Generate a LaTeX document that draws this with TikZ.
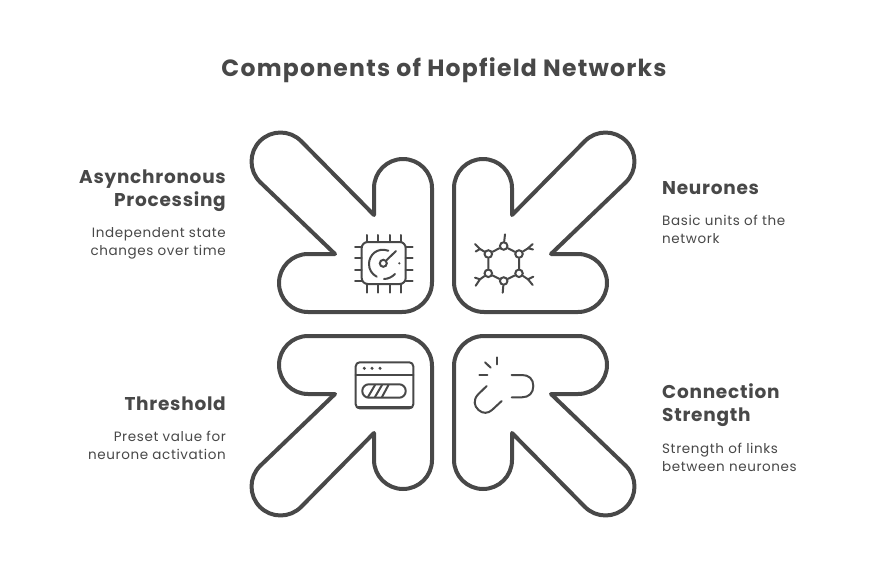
\documentclass[tikz,border=0pt]{standalone}
\usepackage{fontspec}
\setmainfont{Poppins}
\newfontfamily\titlefam{Poppins}[LetterSpace=5.3]
\newfontfamily\headfam{Poppins}[LetterSpace=4]
\newfontfamily\bodyfam{Poppins}[LetterSpace=4.6]
\definecolor{ink}{HTML}{484848}
\tikzset{
  arrowline/.style={draw=ink,line width=4pt,line join=round,fill=white},
  iconline/.style={draw=ink,line width=2pt,line cap=round,line join=round},
  hubring/.style={draw=ink,line width=2pt,circle,inner sep=0pt,minimum size=7.5pt},
  titletext/.style={text=ink,font=\titlefam\fontsize{23.5}{28}\selectfont\bfseries,inner sep=0pt,anchor=base},
  headleft/.style={text=ink,font=\headfam\fontsize{18.5}{23}\selectfont\bfseries,inner sep=0pt,align=right,anchor=base east},
  headright/.style={text=ink,font=\headfam\fontsize{18.5}{23}\selectfont\bfseries,inner sep=0pt,align=left,anchor=base west},
  bodyleft/.style={text=ink,font=\bodyfam\fontsize{13.5}{17.5}\selectfont,inner sep=0pt,align=right,anchor=base east},
  bodyright/.style={text=ink,font=\bodyfam\fontsize{13.5}{17.5}\selectfont,inner sep=0pt,align=left,anchor=base west},
}
\def\arrowoutline{(374,215) -- (374,188)
  .. controls (374,172) and (387,159) .. (403,159)
  .. controls (419,159) and (432,172) .. (432,188)
  -- (432,282)
  .. controls (432,298.5) and (418.5,312) .. (402,312)
  -- (308,312)
  .. controls (292,312) and (279,299) .. (279,283)
  .. controls (279,267) and (292,254) .. (308,254)
  -- (335,254) -- (260,182)
  .. controls (248.7,170.7) and (248.7,152.3) .. (260,141)
  .. controls (271.3,129.7) and (289.7,129.7) .. (301,141)
  -- cycle}
\begin{document}
\begin{tikzpicture}[x=1pt,y=-1pt]
\useasboundingbox (0,0) rectangle (888,588);
\fill[white] (0,0) rectangle (888,588);
% arrows
\draw[arrowline] \arrowoutline;
\draw[arrowline,cm={-1,0,0,1,(886,0)}] \arrowoutline;
\draw[arrowline,cm={1,0,0,-1,(0,648)}] \arrowoutline;
\draw[arrowline,cm={-1,0,0,-1,(886,648)}] \arrowoutline;
% title
\node[titletext] (title) at (444,77) {Components of Hopfield Networks};
% left top
\node[headleft] (asynchead) at (226,183) {Asynchronous};
\node[headleft] (asynchead2) at (226,206) {Processing};
\node[bodyleft] (asyncbody) at (226,237) {Independent state};
\node[bodyleft] (asyncbody2) at (226,255) {changes over time};
% right top
\node[headright] (neuhead) at (662,194) {Neurones};
\node[bodyright] (neubody) at (662,225) {Basic units of the};
\node[bodyright] (neubody2) at (662,243) {network};
% left bottom
\node[headleft] (thrhead) at (226,410) {Threshold};
\node[bodyleft] (thrbody) at (226,441) {Preset value for};
\node[bodyleft] (thrbody2) at (226,459) {neurone activation};
% right bottom
\node[headright] (conhead) at (662,398) {Connection};
\node[headright] (conhead2) at (662,421) {Strength};
\node[bodyright] (conbody) at (662,453) {Strength of links};
\node[bodyright] (conbody2) at (662,471) {between neurones};
% chip icon
\draw[iconline,rounded corners=6pt] (361.7,242) rectangle (405.7,284);
\foreach \px in {367.3,378.3,389.7,400.7}{
  \draw[iconline] (\px,235) -- (\px,242);
  \draw[iconline] (\px,284) -- (\px,292.7);
}
\foreach \py in {246.7,258.3,270,281}{
  \draw[iconline] (355,\py) -- (361.7,\py);
  \draw[iconline] (405.7,\py) -- (412.7,\py);
}
\node[hubring,minimum size=7pt] (gaugehub) at (383.3,263.3) {};
\coordinate (gaugetip) at (396,251);
\draw[iconline] (gaugehub) -- (gaugetip);
\draw[iconline] (388.3,250.7) .. controls (377,247) and (369,255) .. (369,264) .. controls (369,270) and (372,274) .. (376.7,276.7);
\draw[iconline] (384,279) .. controls (388,279) and (392,277) .. (395,274);
\fill[ink] (399.3,263.3) circle (1.2pt);
% hexagon icon
\node[hubring] (h1) at (503.7,246) {};
\node[hubring] (h2) at (519,254) {};
\node[hubring] (h3) at (519,273.3) {};
\node[hubring] (h4) at (503.7,281) {};
\node[hubring] (h5) at (488.3,273.3) {};
\node[hubring] (h6) at (488.3,254) {};
\draw[iconline] (h1)--(h2) (h2)--(h3) (h3)--(h4) (h4)--(h5) (h5)--(h6) (h6)--(h1);
\coordinate (s1) at (505,234.3);
\coordinate (s4) at (502.7,292.7);
\draw[iconline] (h1)--(s1) (h4)--(s4);
\coordinate (f6) at (480,249);
\coordinate (f2) at (528,248.3);
\coordinate (f5) at (480,279.3);
\coordinate (f3) at (528,279.3);
\draw[iconline] (h6)--(f6) (h2)--(f2) (h5)--(f5) (h3)--(f3);
\draw[iconline] (f6)--(475,244) (f6)--(475.7,251.5);
\draw[iconline] (f2)--(532.7,244) (f2)--(533,249.5);
\draw[iconline] (f5)--(475,277.7) (f5)--(475.7,285.7);
\draw[iconline] (f3)--(533.3,276.7) (f3)--(532.7,285);
% window icon
\draw[iconline,rounded corners=4pt] (355.7,362.3) rectangle (413.3,408.3);
\draw[iconline] (355.7,375) -- (413.3,375);
\draw[iconline,line width=2.6pt] (358,407.5) -- (411,407.5);
\foreach \dx in {364.3,372,380}{\fill[ink] (\dx,368.3) circle (1.7pt);}
\draw[iconline,rounded corners=6.5pt] (362.3,384.3) rectangle (405.7,397.7);
\draw[iconline] (368,397) -- (375,385) (375,397) -- (382,385) (382,397) -- (388.5,385);
% link icon
\draw[iconline] (511.7,375) -- (522,375) .. controls (529,375) and (533.3,379) .. (533.3,386)
  .. controls (533.3,393) and (529,397.3) .. (522,397.3) -- (511.7,397.3);
\draw[iconline] (486.7,386) -- (478,394.5) .. controls (473,400) and (474,406) .. (478.5,410)
  .. controls (483,414) and (488,413.5) .. (492,410) -- (501.7,401);
\draw[iconline] (497.3,357.3) -- (497.3,364.3);
\draw[iconline] (485,362.3) -- (490.7,367.7);
\draw[iconline] (479.3,375) -- (487.3,375);
\end{tikzpicture}
\end{document}
